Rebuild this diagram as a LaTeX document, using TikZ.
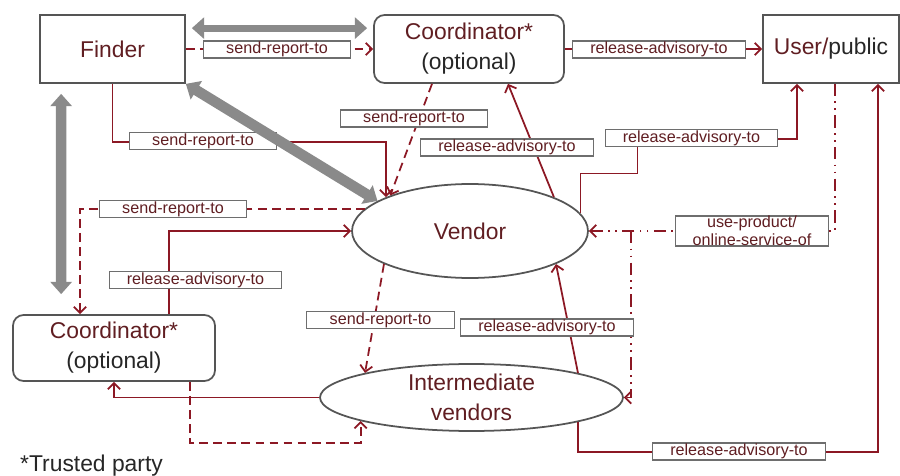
\documentclass[tikz,border=0pt]{standalone}
\usepackage{fontspec}
\setmainfont{Liberation Sans}
\usetikzlibrary{arrows.meta,shapes.geometric,calc}
\definecolor{relred}{RGB}{140,24,36}
\definecolor{txtred}{RGB}{96,30,34}
\definecolor{boxgray}{RGB}{85,85,85}
\definecolor{biggray}{RGB}{138,138,138}

\begin{document}
\begin{tikzpicture}[x=0.02cm, y=-0.02cm,
	party/.style={draw=boxgray, line width=1pt, inner sep=0pt, minimum height=1.36cm, font=\fontsize{13}{17}\selectfont, text=txtred, align=center},
	coord/.style={party, rounded corners=6pt},
	vend/.style={draw=boxgray, line width=1pt, ellipse, inner sep=0pt, font=\fontsize{13}{17}\selectfont, text=txtred, align=center},
	lab/.style={draw=boxgray!85, line width=0.7pt, fill=white, inner xsep=10pt, inner ysep=0pt, minimum width=2.95cm, minimum height=0.34cm, font=\fontsize{9.2}{10.2}\selectfont, text=txtred, align=center},
	rel/.style={relred, line width=1pt, -{Straight Barb[length=3.5pt,width=7pt]}},
	rep/.style={rel, dash pattern=on 5pt off 3pt},
	use/.style={rel, dash pattern=on 7pt off 3pt on 1pt off 3pt on 1pt off 3pt},
	trust/.style={biggray, line width=6pt, {Triangle[length=7pt,width=12pt]}-{Triangle[length=7pt,width=12pt]}}]
		\useasboundingbox (0,0) rectangle (900,476);
		\node[party, minimum width=2.9cm] (finder) at (112.5,49) {Finder};
		\node[coord, minimum width=3.8cm] (coordA) at (469,49) {Coordinator*\\\textcolor{black!85}{(optional)}};
		\node[party, minimum width=2.72cm] (user) at (831,49) {User/\textcolor{black!85}{public}};
		\node[coord, minimum width=4.04cm, minimum height=1.32cm] (coordB) at (114,348) {Coordinator*\\\textcolor{black!85}{(optional)}};
		\node[vend, minimum width=4.72cm, minimum height=1.88cm] (vendor) at (470,231) {Vendor};
		\node[vend, minimum width=6.06cm, minimum height=1.34cm] (inter) at (471.5,397.5) {Intermediate\\vendors};
		\node[anchor=base west, font=\fontsize{13}{15}\selectfont, text=black!85] (trusted) at (14,471) {*Trusted party};
		
		\draw[rep] (finder.east) -- (coordA.west);
		\draw[rel] (coordA.east) -- (user.west);
		\draw[rel] (finder.south) -- ++(0,58) -| (vendor.158);
		\draw[rep] ($(coordA.south)+(-37,0)$) -- (vendor.156);
		\draw[rel] (vendor.22) -- ($(coordA.south)+(39,0)$);
		\draw[rel] (vendor.9) -- ++(0,-40) -- ++(57,0) |- ($(user.south)+(-34,55)$) -- ($(user.south)+(-34,0)$);
		\draw[rep] (vendor.168) -| ($(coordB.north)+(-34,0)$);
		\draw[rel] ($(coordB.north)+(55,0)$) |- (vendor.west);
		\draw[rep] (vendor.201) -- (inter.167);
		\draw[rel] (inter.13) -- (vendor.-21);
		\draw[rel] (inter.west) -| (coordB.south);
		\draw[rep] ($(coordB.south)+(76,0)$) -- ++(0,61) -| (inter.192);
		\draw[rel] (inter.-13) -- ++(0,30) -| ($(user.south)+(47,0)$);
		\draw[use] ($(user.south)+(4,0)$) |- (vendor.east);
		\draw[use] ($(vendor.east)+(42,0)$) |- (inter.east);
		
		\node[lab] (rep1) at (277,49.5) {send-report-to};
		\node[lab] (adv1) at (659,49.5) {release-advisory-to};
		\node[lab] (rep2) at (203,141) {send-report-to};
		\node[lab] (rep3) at (414,118.5) {send-report-to};
		\node[lab] (adv2) at (507,147.5) {release-advisory-to};
		\node[lab] (adv3) at (691.5,138) {release-advisory-to};
		\node[lab] (rep4) at (173,209) {send-report-to};
		\node[lab] (adv4) at (195.5,280) {release-advisory-to};
		\node[lab] (rep5) at (380.5,320) {send-report-to};
		\node[lab] (adv5) at (547,327.5) {release-advisory-to};
		\node[lab] (adv6) at (739,451.5) {release-advisory-to};
		\node[lab, minimum width=0cm] (uses) at (752,231) {use-product/\\online-service-of};
		
		\draw[trust, line width=4pt] ($(finder.north east)+(6,14)$) -- ($(coordA.north west)+(-6,14)$);
		\draw[trust] (finder.south east) -- (vendor.162);
		\draw[trust] ($(finder.south west)+(22,10)$) -- ($(coordB.north west)+(49,-20)$);
\end{tikzpicture}
\end{document}
